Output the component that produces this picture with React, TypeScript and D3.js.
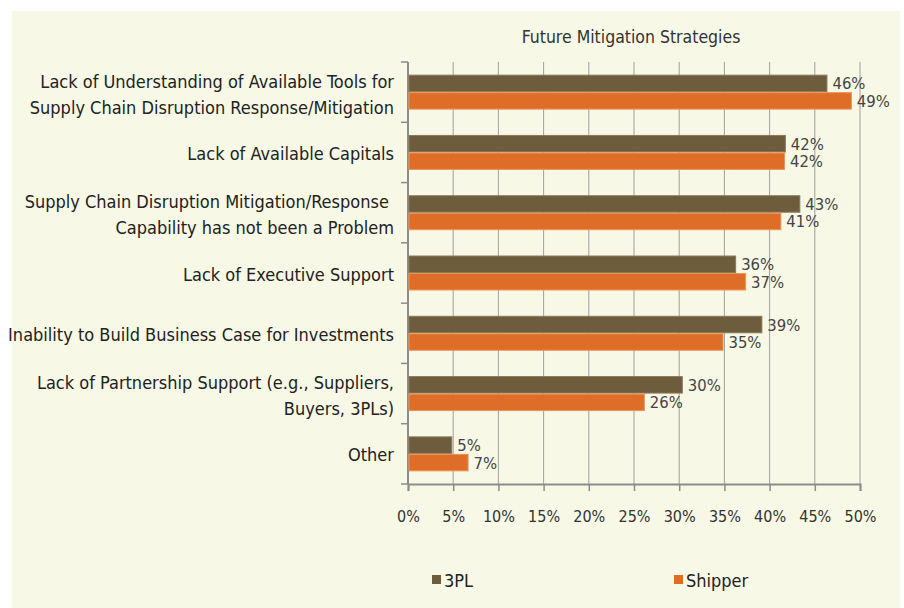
import { useEffect, useRef } from "react";
import * as d3 from "d3";

const categories = [
  ["Lack of Understanding of Available Tools for", "Supply Chain Disruption Response/Mitigation"],
  ["Lack of Available Capitals"],
  ["Supply Chain Disruption Mitigation/Response ", "Capability has not been a Problem"],
  ["Lack of Executive Support"],
  ["Inability to Build Business Case for Investments"],
  ["Lack of Partnership Support (e.g., Suppliers,", "Buyers, 3PLs)"],
  ["Other"],
];
// bar lengths; labels show them rounded
const tplValues = [46.4, 41.8, 43.4, 36.3, 39.2, 30.4, 4.9];
const shipperValues = [49.1, 41.7, 41.3, 37.4, 34.9, 26.2, 6.7];
const seriesNames = ["3PL", "Shipper"];
const xTicks = [0, 5, 10, 15, 20, 25, 30, 35, 40, 45, 50];

const colors = ["#6e5d3d", "#de6e27"];
const edges = ["#8a7a58", "#eb945a"];
const font = "'Liberation Sans Narrow', 'DejaVu Sans Condensed', sans-serif";

function App() {
  const svgRef = useRef<SVGSVGElement>(null);
  const width = 904, height = 608;
  const plot = { left: 408, right: 860, top: 62, bottom: 484 };

  useEffect(() => {
    const svg = d3.select(svgRef.current);
    svg.selectAll("*").remove();

    svg.append("rect").attr("x", 12).attr("y", 11).attr("width", 888).attr("height", 597).attr("fill", "#f7f8e5");

    const x = d3.scaleLinear().domain([0, 50]).range([plot.left, plot.right]);
    const y = d3.scaleBand<number>()
      .domain(categories.map((_, i) => i))
      .range([plot.top, plot.bottom])
      .paddingInner(0.42)
      .paddingOuter(0.21);
    const inner = d3.scaleBand<number>().domain([0, 1]).range([0, y.bandwidth()]);

    svg.append("text")
      .attr("x", 631).attr("y", 43)
      .attr("text-anchor", "middle")
      .attr("font-family", font).attr("font-size", 17.5).attr("fill", "#333")
      .text("Future Mitigation Strategies");

    // gridlines
    svg.append("g").selectAll("line").data(xTicks.slice(1)).enter().append("line")
      .attr("x1", d => x(d)).attr("x2", d => x(d))
      .attr("y1", plot.top).attr("y2", plot.bottom)
      .attr("stroke", "#a0a0a0").attr("stroke-width", 1);

    // x axis
    const xAxis = svg.append("g")
      .attr("transform", `translate(0,${plot.bottom})`)
      .call(d3.axisBottom(x).tickValues(xTicks).tickSize(7).tickPadding(20).tickFormat(d => `${d}%`));
    xAxis.select(".domain").attr("stroke", "#8c8c8c").attr("stroke-width", 2);
    xAxis.selectAll(".tick line").attr("stroke", "#8c8c8c").attr("stroke-width", 1.5);
    xAxis.selectAll("text").attr("font-family", font).attr("font-size", 16).attr("fill", "#333");

    // y axis line + ticks at band boundaries
    const step = (plot.bottom - plot.top) / categories.length;
    svg.append("line")
      .attr("x1", plot.left).attr("x2", plot.left)
      .attr("y1", plot.top).attr("y2", plot.bottom)
      .attr("stroke", "#8c8c8c").attr("stroke-width", 2);
    svg.append("g").selectAll("line").data(d3.range(categories.length + 1)).enter().append("line")
      .attr("x1", plot.left - 7).attr("x2", plot.left)
      .attr("y1", d => plot.top + d * step).attr("y2", d => plot.top + d * step)
      .attr("stroke", "#8c8c8c").attr("stroke-width", 1.5);

    // bars
    const series = [tplValues, shipperValues];
    series.forEach((vals, s) => {
      const g = svg.append("g");
      g.selectAll("rect").data(vals).enter().append("rect")
        .attr("x", x(0) + 1)
        .attr("y", (_, i) => (y(i) as number) + (inner(s) as number) + 0.5)
        .attr("width", d => x(d) - x(0) - 1.5)
        .attr("height", inner.bandwidth() - 1)
        .attr("fill", colors[s])
        .attr("stroke", edges[s]).attr("stroke-width", 1);
      g.selectAll("text").data(vals).enter().append("text")
        .attr("x", d => x(d) + 5)
        .attr("y", (_, i) => (y(i) as number) + (inner(s) as number) + inner.bandwidth() / 2 + 6)
        .attr("font-family", font).attr("font-size", 16.5).attr("fill", "#444")
        .text(d => `${Math.round(d)}%`);
    });

    // category labels
    const lab = svg.append("g");
    categories.forEach((lines, i) => {
      const cy = (y(i) as number) + y.bandwidth() / 2 + (lines.length > 1 ? 2 : 1);
      const lh = 26;
      const t = lab.append("text")
        .attr("text-anchor", "end")
        .attr("font-family", font).attr("font-size", 18).attr("fill", "#222")
        .style("white-space", "pre");
      lines.forEach((ln, j) => {
        t.append("tspan")
          .attr("x", 394)
          .attr("y", cy + (j - (lines.length - 1) / 2) * lh + 6.5)
          .text(ln);
      });
    });

    // legend
    const leg = svg.append("g");
    const legendX = [432, 674];
    seriesNames.forEach((name, s) => {
      leg.append("rect").attr("x", legendX[s]).attr("y", 575).attr("width", 9).attr("height", 9).attr("fill", colors[s]);
      leg.append("text").attr("x", legendX[s] + 12).attr("y", 587)
        .attr("font-family", font).attr("font-size", 18).attr("fill", "#222")
        .text(name);
    });
  }, []);

  return (
    <svg ref={svgRef} width={width} height={height}
      style={{ position: "absolute", left: 0, top: 0, background: "#fff" }} />
  );
}

export default App;
